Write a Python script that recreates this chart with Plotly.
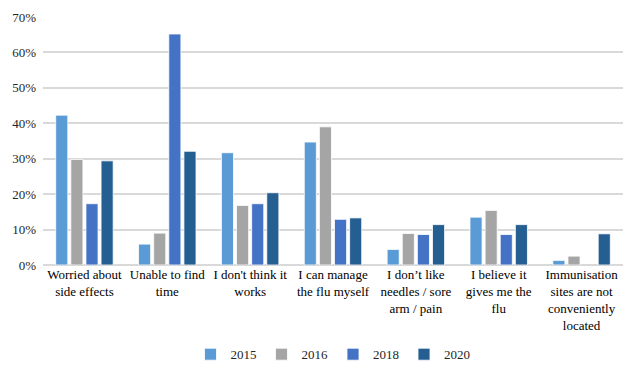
import plotly.graph_objects as go

categories = [
    "Worried about<br>side effects",
    "Unable to find<br>time",
    "I don't think it<br>works",
    "I can manage<br>the flu myself",
    "I don’t like<br>needles / sore<br>arm / pain",
    "I believe it<br>gives me the<br>flu",
    "Immunisation<br>sites are not<br>conveniently<br>located",
]

years = ["2015", "2016", "2018", "2020"]

pct_2015 = [42.3, 5.9, 31.7, 34.7, 4.4, 13.5, 1.3]
pct_2016 = [29.8, 9.0, 16.8, 39.0, 8.9, 15.4, 2.5]
pct_2018 = [17.3, 65.2, 17.3, 12.9, 8.6, 8.6, None]
pct_2020 = [29.4, 32.1, 20.4, 13.3, 11.4, 11.4, 8.8]

series = [pct_2015, pct_2016, pct_2018, pct_2020]
colors = ["#5B9BD5", "#A5A5A5", "#4472C4", "#255E91"]

SERIF = "Liberation Serif, Times New Roman, DejaVu Serif, serif"

fig = go.Figure()
for name, vals, col in zip(years, series, colors):
    fig.add_trace(go.Bar(
        x=categories,
        y=[None if v is None else v / 100 for v in vals],
        name=name,
        marker=dict(color=col, line=dict(color="white", width=0.8)),
    ))

fig.update_layout(
    width=623,
    height=369,
    barmode="group",
    bargap=0.27,
    bargroupgap=0.2,
    plot_bgcolor="white",
    paper_bgcolor="white",
    font=dict(family=SERIF, size=13, color="#000000"),
    margin=dict(l=43, r=0, t=17, b=104),
    xaxis=dict(
        showgrid=False,
        showline=False,
        ticks="",
        tickangle=0,
        tickfont=dict(family=SERIF, size=13, color="#000000"),
    ),
    yaxis=dict(
        range=[0, 0.7],
        dtick=0.1,
        tickformat=".0%",
        showgrid=True,
        gridcolor="#D9D9D9",
        gridwidth=1.5,
        zeroline=True,
        zerolinecolor="#D9D9D9",
        zerolinewidth=1.5,
        showline=False,
        ticks="",
        ticklabelstandoff=6,
        tickfont=dict(family=SERIF, size=13, color="#262626"),
    ),
    legend=dict(
        orientation="h",
        x=0.5,
        xanchor="center",
        yref="container",
        y=0.04,
        yanchor="middle",
        font=dict(family=SERIF, size=13, color="#262626"),
        itemwidth=30,
        tracegroupgap=0,
    ),
)

fig.write_html("out.html")
